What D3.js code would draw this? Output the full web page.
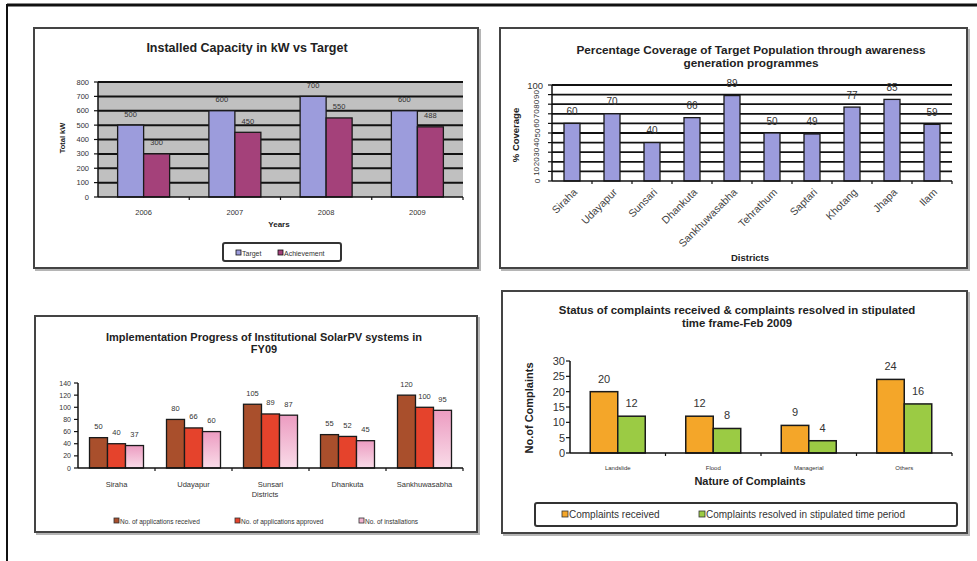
<!DOCTYPE html>
<html><head><meta charset="utf-8">
<script src="https://cdn.jsdelivr.net/npm/d3@7"></script>
<style>
body{margin:0;background:#fff}
svg{display:block}
text{font-family:"Liberation Sans",Arial,sans-serif}
</style>
</head><body>
<svg id="c" width="977" height="561"></svg>
<script>
// ---------- DATA ----------
const capTitle = "Installed Capacity in kW vs Target";
const capYears = ["2006","2007","2008","2009"];
const capTarget = [500,600,700,600];
const capAchievement = [300,450,550,488];
const capTicks = [0,100,200,300,400,500,600,700,800];

const covTitle = ["Percentage Coverage of Target Population through awareness","generation programmes"];
const covDistricts = ["Siraha","Udayapur","Sunsari","Dhankuta","Sankhuwasabha","Tehrathum","Saptari","Khotang","Jhapa","Ilam"];
const covValues = [60,70,40,66,89,50,49,77,85,59];
const covTicks = [0,10,20,30,40,50,60,70,80,90,100];

const pvTitle = ["Implementation Progress of Institutional SolarPV systems in","FY09"];
const pvDistricts = ["Siraha","Udayapur","Sunsari","Dhankuta","Sankhuwasabha"];
const pvReceived = [50,80,105,55,120];
const pvApproved = [40,66,89,52,100];
const pvInstalled = [37,60,87,45,95];
const pvTicks = [0,20,40,60,80,100,120,140];

const compTitle = ["Status of complaints received & complaints resolved in stipulated","time frame-Feb 2009"];
const compCats = ["Landslide","Flood","Managerial","Others"];
const compReceived = [20,12,9,24];
const compResolved = [12,8,4,16];
const compTicks = [0,5,10,15,20,25,30];

// ---------- DRAWING ----------
const svg = d3.select("#c");
const defs = svg.append("defs");
const pg = defs.append("linearGradient").attr("id","pink").attr("x1",0).attr("y1",0).attr("x2",0).attr("y2",1);
pg.append("stop").attr("offset","0%").attr("stop-color","#ec9cc1");
pg.append("stop").attr("offset","100%").attr("stop-color","#f9dbe8");

// outer frame
svg.append("line").attr("x1",7).attr("x2",977).attr("y1",5).attr("y2",5).attr("stroke","#111").attr("stroke-width",3);
svg.append("line").attr("x1",7).attr("x2",7).attr("y1",4).attr("y2",561).attr("stroke","#111").attr("stroke-width",2);

function panel(x0,y0,x1,y1){
  svg.append("rect").attr("x",x0+2).attr("y",y0+2).attr("width",x1-x0).attr("height",y1-y0)
    .attr("fill","none").attr("stroke","#b5b5b5").attr("stroke-width",2);
  svg.append("rect").attr("x",x0).attr("y",y0).attr("width",x1-x0).attr("height",y1-y0)
    .attr("fill","#fff").attr("stroke","#444").attr("stroke-width",2);
}

function label(x,y,s,o={}){
  const t = svg.append("text").attr("x",x).attr("y",y).text(s)
    .attr("font-size",o.size||8).attr("font-weight",o.bold?"bold":"normal")
    .attr("text-anchor",o.anchor||"middle").attr("fill",o.fill||"#222")
    .attr("dominant-baseline","central");
  if(o.rotate!=null) t.attr("transform",`rotate(${o.rotate},${x},${y})`);
  return t;
}

function barChart(o){
  const g = svg.append("g");
  const x = d3.scaleBand().domain(o.cats).range([o.L,o.R]);
  const y = d3.scaleLinear().domain([0,o.max]).range([o.B,o.T]);
  const xi = d3.scaleBand().domain(d3.range(o.series.length)).range([-o.groupW/2,o.groupW/2]);
  if(o.bg) g.append("rect").attr("x",o.L).attr("y",o.T).attr("width",o.R-o.L).attr("height",o.B-o.T).attr("fill",o.bg);
  if(o.grid){
    g.selectAll(null).data(o.ticks.filter(d=>d>0)).join("line")
      .attr("x1",o.L).attr("x2",o.R).attr("y1",d=>y(d)).attr("y2",d=>y(d))
      .attr("stroke","#111").attr("stroke-width",o.gridW||1.5);
  }
  o.series.forEach((s,i)=>{
    g.selectAll(null).data(s.values).join("rect")
      .attr("x",(d,j)=>x(o.cats[j])+x.bandwidth()/2+xi(i))
      .attr("y",d=>y(d)).attr("width",xi.bandwidth()).attr("height",d=>o.B-y(d))
      .attr("fill",s.fill).attr("stroke","#1a1a1a").attr("stroke-width",o.barStroke||1.3);
    g.selectAll(null).data(s.values).join("text")
      .attr("x",(d,j)=>x(o.cats[j])+x.bandwidth()/2+xi(i)+xi.bandwidth()/2)
      .attr("y",d=>y(d)-o.labelOff).attr("dominant-baseline","central")
      .attr("text-anchor","middle").attr("font-size",o.labelSize).attr("fill","#333")
      .text(d=>d);
  });
  // y axis
  g.append("line").attr("x1",o.L).attr("x2",o.L).attr("y1",o.T).attr("y2",o.B).attr("stroke","#111").attr("stroke-width",1.5);
  g.selectAll(null).data(o.ticks).join("line")
    .attr("x1",o.L-4).attr("x2",o.L).attr("y1",d=>y(d)).attr("y2",d=>y(d)).attr("stroke","#111").attr("stroke-width",1.2);
  if(!o.customY){
    g.selectAll(null).data(o.ticks).join("text")
      .attr("x",o.yLabelX).attr("y",d=>y(d)).attr("dominant-baseline","central")
      .attr("text-anchor","end").attr("font-size",o.tickSize).attr("fill","#333").text(d=>d);
  }
  // x axis
  g.append("line").attr("x1",o.L).attr("x2",o.R).attr("y1",o.B).attr("y2",o.B).attr("stroke","#111").attr("stroke-width",1.5);
  g.selectAll(null).data(o.cats.slice(1).map(c=>x(c)).concat([o.R])).join("line")
    .attr("x1",d=>d).attr("x2",d=>d).attr("y1",o.B).attr("y2",o.B+3).attr("stroke","#111").attr("stroke-width",1.2);
  if(!o.customX){
    g.selectAll(null).data(o.cats).join("text")
      .attr("x",d=>x(d)+x.bandwidth()/2).attr("y",o.catY).attr("dominant-baseline","central")
      .attr("text-anchor","middle").attr("font-size",o.catSize).attr("fill","#333").text(d=>d);
  }
  return {x,y,g};
}

// ===== Chart 1: Installed capacity =====
panel(34,28,478,268);
label(247,48,capTitle,{size:12.5,bold:true});
barChart({
  cats:capYears, L:98, R:463, T:82, B:197, max:800, ticks:capTicks,
  groupW:52, bg:"#c0c0c0", grid:true, gridW:2,
  series:[{values:capTarget,fill:"#9c9cdc"},{values:capAchievement,fill:"#a4417a"}],
  labelOff:11, labelSize:7.5, tickSize:7.5, yLabelX:89, catY:212, catSize:7.5
});
label(279,224,"Years",{size:8,bold:true});
label(62,138,"Total kW",{size:7.5,bold:true,rotate:-90});
svg.append("rect").attr("x",223).attr("y",243).attr("width",118).attr("height",18).attr("rx",2)
  .attr("fill","#fff").attr("stroke","#333").attr("stroke-width",2);
[["Target","#9c9cdc",236],["Achievement","#a4417a",278]].forEach(([n,c,px])=>{
  svg.append("rect").attr("x",px).attr("y",250).attr("width",5).attr("height",5).attr("fill",c).attr("stroke","#111").attr("stroke-width",0.8);
  label(px+6,253,n,{size:7,anchor:"start",fill:"#333"});
});

// ===== Chart 2: Coverage =====
panel(500,28,967,268);
label(751,50,covTitle[0],{size:11.8,bold:true});
label(751,63,covTitle[1],{size:11.8,bold:true});
const c2 = barChart({
  cats:covDistricts, L:552, R:952, T:85, B:181, max:100, ticks:covTicks,
  groupW:16, grid:true, gridW:1.8,
  series:[{values:covValues,fill:"#9c9cdc"}],
  labelOff:12, labelSize:10, tickSize:8, yLabelX:545, customY:true, customX:true
});
covTicks.forEach(t=>{
  if(t===100) label(543,c2.y(t),String(t),{size:9.5,anchor:"end",fill:"#333"});
  else label(537,c2.y(t),String(t),{size:8,fill:"#333",rotate:-90});
});
covDistricts.forEach(d=>{
  const cx = c2.x(d)+c2.x.bandwidth()/2+3;
  label(cx,190,d,{size:10.5,anchor:"end",fill:"#444",rotate:-45});
});
label(750,257,"Districts",{size:9.5,bold:true});
label(515,135,"% Coverage",{size:9.5,bold:true,rotate:-90});

// ===== Chart 3: SolarPV =====
panel(35,316,477,532);
label(264,337,pvTitle[0],{size:11,bold:true});
label(264,349,pvTitle[1],{size:11,bold:true});
const pvSeries = [
  {name:"No. of applications received",values:pvReceived,fill:"#a94f2c"},
  {name:"No. of applications approved",values:pvApproved,fill:"#e5432c"},
  {name:"No. of installations",values:pvInstalled,fill:"url(#pink)"}
];
barChart({
  cats:pvDistricts, L:78, R:463, T:383, B:468, max:140, ticks:pvTicks,
  groupW:54, series:pvSeries,
  labelOff:11, labelSize:7.5, tickSize:7, yLabelX:71, catY:484, catSize:7.5
});
label(265,494,"Districts",{size:7.5,fill:"#333"});
[[116,0],[237,1],[361,2]].forEach(([px,i])=>{
  svg.append("rect").attr("x",px-2).attr("y",518).attr("width",5).attr("height",5)
    .attr("fill",i===2?"#f2b3cf":pvSeries[i].fill).attr("stroke","#333").attr("stroke-width",0.8);
  label(px+4,521,pvSeries[i].name,{size:6.5,anchor:"start",fill:"#333"});
});

// ===== Chart 4: Complaints =====
panel(502,291,967,533);
label(737,310,compTitle[0],{size:11.4,bold:true});
label(737,323,compTitle[1],{size:11.4,bold:true});
const compSeries = [
  {name:"Complaints received",values:compReceived,fill:"#f4a629"},
  {name:"Complaints resolved in stipulated time period",values:compResolved,fill:"#9bcb44"}
];
barChart({
  cats:compCats, L:570, R:952, T:361, B:453, max:30, ticks:compTicks,
  groupW:55, series:compSeries, barStroke:1.5,
  labelOff:13, labelSize:11, tickSize:11, yLabelX:565, catY:468, catSize:6
});
label(750,481,"Nature of Complaints",{size:11,bold:true});
label(529,408,"No.of Complaints",{size:11,bold:true,rotate:-90});
svg.append("rect").attr("x",535).attr("y",503).attr("width",422).attr("height",23).attr("rx",2)
  .attr("fill","#fff").attr("stroke","#333").attr("stroke-width",2);
[[565,0],[702,1]].forEach(([px,i])=>{
  svg.append("rect").attr("x",px-3).attr("y",511).attr("width",6).attr("height",6)
    .attr("fill",compSeries[i].fill).attr("stroke","#333").attr("stroke-width",0.8);
  label(px+4,514.5,compSeries[i].name,{size:10,anchor:"start",fill:"#333"});
});
</script>
</body></html>
